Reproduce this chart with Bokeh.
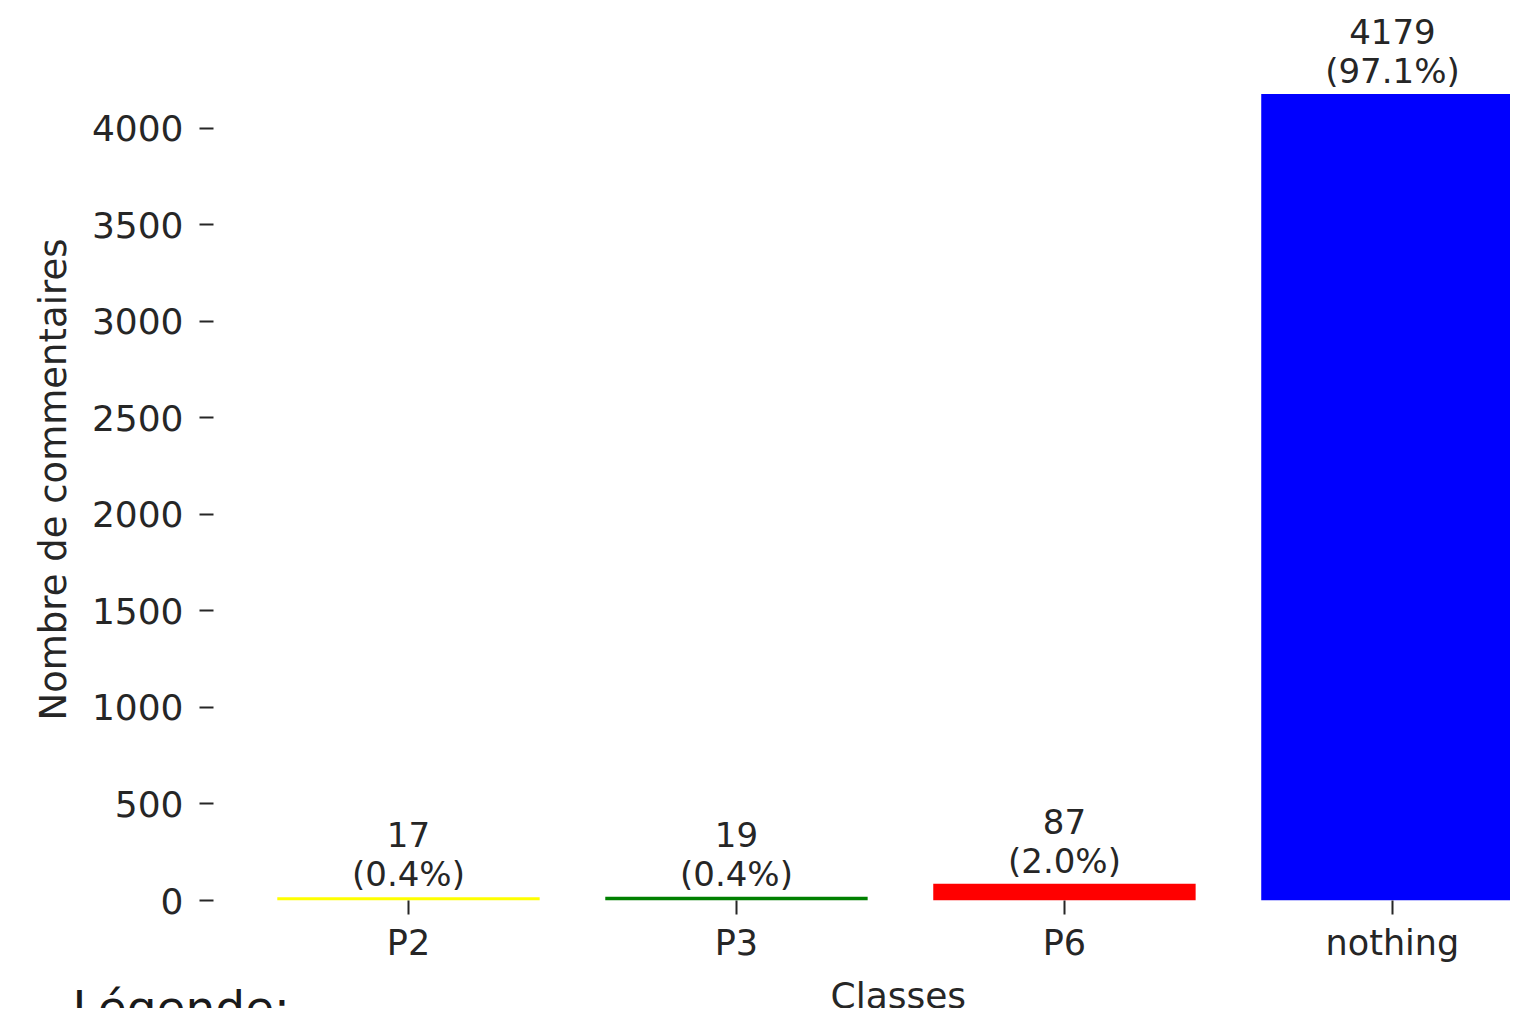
from bokeh.plotting import figure
from bokeh.models import Range1d, FixedTicker, Title, ColumnDataSource
from bokeh.core.properties import value
from bokeh.embed import file_html
from bokeh.resources import INLINE

# ---- data ----
classes = ["P2", "P3", "P6", "nothing"]
counts = [17, 19, 87, 4179]
percents = [0.4, 0.4, 2.0, 97.1]
colors = ["#ffff00", "#008000", "#ff0000", "#0000ff"]
y_ticks = [0, 500, 1000, 1500, 2000, 2500, 3000, 3500, 4000]

positions = list(range(len(classes)))
labels = [f"{c}\n({p:.1f}%)" for c, p in zip(counts, percents)]

FONT = "DejaVu Sans"
TXT = "#262626"

src = ColumnDataSource(dict(x=positions, top=counts, color=colors, label=labels))

p = figure(width=1510, height=1008, output_backend="svg", toolbar_location=None,
           x_range=Range1d(-0.5945, 3.36), y_range=Range1d(0, 4663),
           min_border_left=213, min_border_right=0, min_border_top=0, min_border_bottom=108)
p.outline_line_color = None
p.xgrid.visible = False
p.ygrid.visible = False

p.vbar(x="x", top="top", bottom=0, width=0.8, color="color", line_color=None, source=src)

p.text(x="x", y="top", text="label", source=src, text_align="center", text_baseline="bottom",
       y_offset=-3, text_font=value(FONT), text_font_size="34px", text_color=TXT,
       text_line_height=0.97)

xa = p.xaxis[0]
xa.ticker = FixedTicker(ticks=positions)
xa.major_label_overrides = {i: c for i, c in zip(positions, classes)}
ya = p.yaxis[0]
ya.ticker = FixedTicker(ticks=y_ticks)
for ax in (xa, ya):
    ax.axis_line_color = None
    ax.minor_tick_line_color = None
    ax.major_tick_in = 0
    ax.major_tick_out = 14
    ax.major_tick_line_width = 2
    ax.major_tick_line_color = TXT
    ax.major_label_text_font = FONT
    ax.major_label_text_font_size = "36px"
    ax.major_label_text_color = TXT
xa.major_label_text_font_size = "35px"
xa.major_label_standoff = 8
# a blank, tiny axis label only adds spacing below the tick labels
xa.axis_label = " "
xa.axis_label_text_font_size = "1px"
xa.axis_label_standoff = 16
ya.major_label_standoff = 16

p.add_layout(Title(text="Nombre de commentaires", align="left", offset=180, standoff=27,
                   text_font=FONT, text_font_size="37px", text_font_style="normal",
                   text_color=TXT), "left")

# x-axis title (centred on the full, partly cropped, axes) and the legend caption
p.add_layout(Title(text="Classes", align="left", offset=617, standoff=-25,
                   text_font=FONT, text_font_size="36px", text_font_style="normal",
                   text_color=TXT), "below")
p.add_layout(Title(text="Légende:", align="left", offset=-141, standoff=-52,
                   text_font=FONT, text_font_size="47px", text_font_style="normal",
                   text_color="#1a1a1a"), "below")

open("out.html", "w").write(file_html(p, INLINE))
